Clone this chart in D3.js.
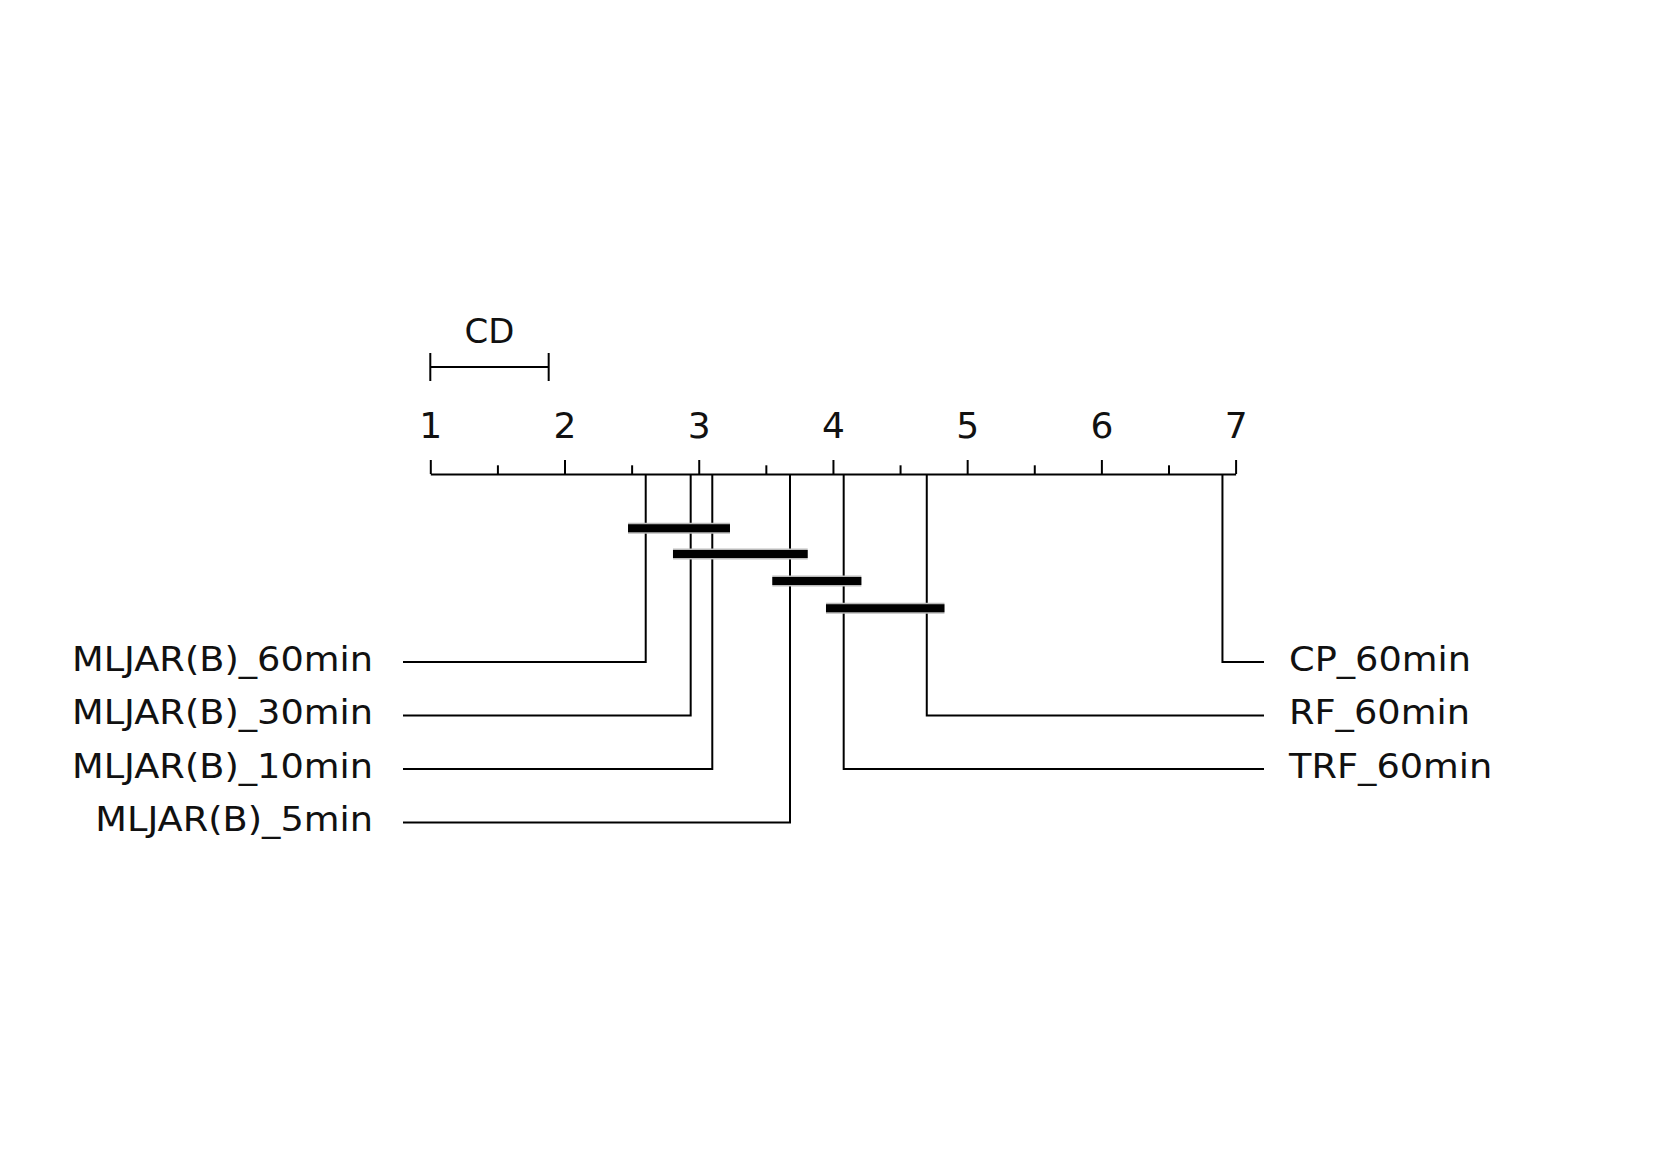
<!DOCTYPE html>
<html>
  <head>
    <meta charset="utf-8">
    <title>CD diagram</title>
    <style>
      body { margin: 0; background: #fff; }
      svg { display: block; }
    </style>
    <script src="https://cdn.jsdelivr.net/npm/d3@7"></script>
  </head>
  <body>
    <div id="chart"></div>
    <script>
// average ranks
var methods = ["MLJAR(B)_60min", "MLJAR(B)_30min", "MLJAR(B)_10min", "MLJAR(B)_5min", "TRF_60min", "RF_60min", "CP_60min"];
var ranks = [2.605, 2.940, 3.101, 3.680, 4.080, 4.699, 6.902];
// groups with no significant difference, as [first, last] index into methods
var cliques = [[0, 2], [1, 3], [3, 4], [4, 5]];
var cd = 0.882;
var majorTicks = [1, 2, 3, 4, 5, 6, 7];
var minorTicks = [1.5, 2.5, 3.5, 4.5, 5.5, 6.5];

var W = 1661, H = 1174;
var axisY = 474, cdY = 367, lineTop = 662, lineStep = 53.5;
var leftEnd = 403, rightEnd = 1264;
var font = "'DejaVu Sans', sans-serif";
var stretch = 1.08; // the source text is a bit wide for its height

var svg = d3.select("#chart").append("svg").attr("width", W).attr("height", H);

var x = d3.scaleLinear().domain([1, 7]).range([430.3, 1235.6]);

// main axis
var gAxis = svg.append("g").attr("transform", "translate(0," + axisY + ")")
  .call(d3.axisTop(x).tickValues(majorTicks).tickSize(14).tickSizeOuter(0).tickPadding(22).tickFormat(d3.format("d")));
gAxis.select(".domain").attr("stroke", "#000").attr("stroke-width", 2);
gAxis.selectAll(".tick line").attr("stroke", "#000").attr("stroke-width", 2);
gAxis.selectAll(".tick text").attr("fill", "#111").style("font-family", font).style("font-size", "36px");

var gMinor = svg.append("g").attr("transform", "translate(0," + axisY + ")")
  .call(d3.axisTop(x).tickValues(minorTicks).tickSize(8.7).tickSizeOuter(0).tickFormat(""));
gMinor.select(".domain").remove();
gMinor.selectAll(".tick line").attr("stroke", "#000").attr("stroke-width", 2);

// CD bar
var cdG = svg.append("g");
cdG.append("line").attr("x1", x(1)).attr("x2", x(1 + cd)).attr("y1", cdY).attr("y2", cdY)
  .attr("stroke", "#000").attr("stroke-width", 2);
[1, 1 + cd].forEach(function(v){
  cdG.append("line").attr("x1", x(v)).attr("x2", x(v)).attr("y1", cdY - 14).attr("y2", cdY + 14)
    .attr("stroke", "#000").attr("stroke-width", 2);
});
cdG.append("text").attr("transform", "translate(" + x(1 + cd / 2) + ",343) scale(1.03,1)")
  .attr("text-anchor", "middle")
  .style("font-family", font).style("font-size", "33px").attr("fill", "#111").text("CD");

// method connectors
var half = Math.ceil(methods.length / 2);
var items = methods.map(function(m, i){
  var left = i < half;
  var row = left ? i : methods.length - 1 - i;
  return { name: m, rank: ranks[i], left: left, y: lineTop + row * lineStep };
});

var conn = svg.append("g").attr("fill", "none").attr("stroke", "#000").attr("stroke-width", 2);
conn.selectAll("path").data(items).enter().append("path")
  .attr("d", function(d){
    return "M" + x(d.rank) + "," + axisY + " V" + d.y + " H" + (d.left ? leftEnd : rightEnd);
  });

svg.append("g").selectAll("text").data(items).enter().append("text")
  .attr("transform", function(d){
    return "translate(" + (d.left ? 373 : 1289) + "," + (d.y + 8.5) + ") scale(" + stretch + ",1)";
  })
  .attr("text-anchor", function(d){ return d.left ? "end" : "start"; })
  .style("font-family", font).style("font-size", "34px").attr("fill", "#111")
  .text(function(d){ return d.name; });

// clique bars
var side = 17.7;
var cliqueY = [528.3, 554, 581, 608.3];
var bars = svg.append("g");
bars.selectAll("line.halo").data(cliques).enter().append("line").attr("class", "halo")
  .attr("x1", function(c){ return x(ranks[c[0]]) - side; })
  .attr("x2", function(c){ return x(ranks[c[1]]) + side; })
  .attr("y1", function(c, i){ return cliqueY[i]; })
  .attr("y2", function(c, i){ return cliqueY[i]; })
  .attr("stroke", "#bbb").attr("stroke-width", 11);
bars.selectAll("line.bar").data(cliques).enter().append("line").attr("class", "bar")
  .attr("x1", function(c){ return x(ranks[c[0]]) - side; })
  .attr("x2", function(c){ return x(ranks[c[1]]) + side; })
  .attr("y1", function(c, i){ return cliqueY[i]; })
  .attr("y2", function(c, i){ return cliqueY[i]; })
  .attr("stroke", "#000").attr("stroke-width", 8);
    </script>
  </body>
</html>
